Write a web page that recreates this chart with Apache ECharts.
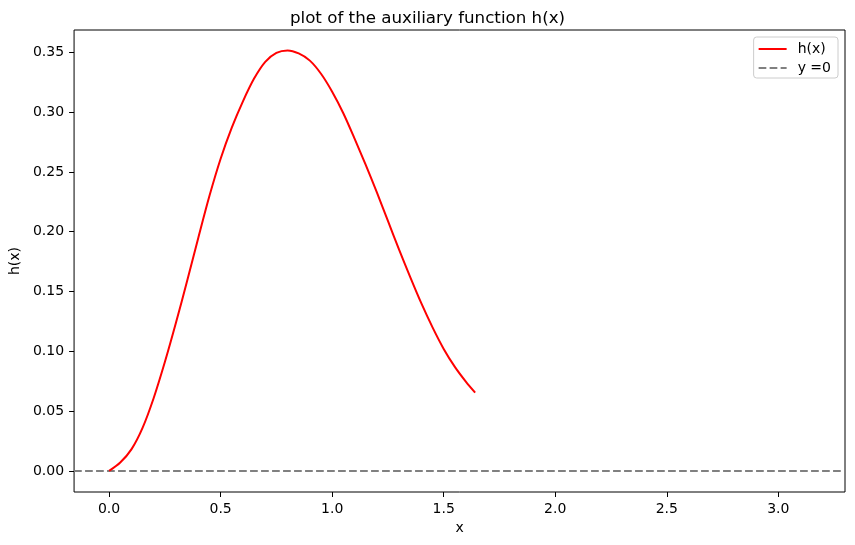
<!DOCTYPE html>
<html>
<head>
<meta charset="utf-8">
<script src="https://cdn.jsdelivr.net/npm/echarts@6/dist/echarts.min.js"></script>
<style>
html,body{margin:0;padding:0;background:#fff;}
#chart{width:855px;height:545px;}
</style>
</head>
<body>
<div id="chart"></div>
<script>
// Data
var xValues = [0.00, 0.05, 0.10, 0.15, 0.20, 0.25, 0.30, 0.35, 0.40, 0.45,
               0.50, 0.55, 0.60, 0.65, 0.70, 0.75, 0.80, 0.85, 0.90, 0.95,
               1.00, 1.05, 1.10, 1.15, 1.20, 1.25, 1.30, 1.35, 1.40, 1.45,
               1.50, 1.55, 1.60, 1.641];
var hValues = [0.000, 0.007, 0.018, 0.036, 0.061, 0.091, 0.124, 0.159, 0.195, 0.230,
               0.261, 0.287, 0.309, 0.328, 0.342, 0.3495, 0.3515, 0.349, 0.343, 0.332,
               0.317, 0.299, 0.278, 0.256, 0.233, 0.209, 0.185, 0.162, 0.140, 0.120,
               0.102, 0.087, 0.0745, 0.0655];
var xTicks = [0.0, 0.5, 1.0, 1.5, 2.0, 2.5, 3.0];
var yTicks = [0.00, 0.05, 0.10, 0.15, 0.20, 0.25, 0.30, 0.35];
var X_MIN = -0.157, X_MAX = 3.299;
var Y_MIN = -0.0176, Y_MAX = 0.3686;

var hData = xValues.map(function (x, i) { return [x, hValues[i]]; });
var zeroData = [[X_MIN, 0], [X_MAX, 0]];

var FONT = 'DejaVu Sans';
var chart = echarts.init(document.getElementById('chart'), null, {renderer: 'canvas'});
chart.setOption({
  animation: false,
  backgroundColor: '#ffffff',
  title: {
    text: 'plot of the auxiliary function h(x)',
    left: 'center',
    top: 10,
    padding: 0,
    textStyle: {fontFamily: FONT, fontSize: 16.7, fontWeight: 'normal', color: '#000'}
  },
  legend: {
    orient: 'vertical',
    right: 17,
    top: 37,
    padding: [5, 7, 3, 4],
    itemWidth: 28,
    itemHeight: 14,
    itemGap: 5,
    borderColor: '#cccccc',
    borderWidth: 1,
    borderRadius: 3,
    backgroundColor: 'rgba(255,255,255,0.8)',
    itemStyle: {opacity: 0},
    textStyle: {fontFamily: FONT, fontSize: 14, color: '#000', padding: [0, 0, 0, 6]},
    data: ['h(x)', 'y =0']
  },
  grid: {
    left: 70, right: 10, top: 30, bottom: 53,
    show: true, borderColor: '#000', borderWidth: 1, backgroundColor: 'transparent'
  },
  xAxis: {
    type: 'value',
    min: X_MIN, max: X_MAX,
    name: 'x',
    nameLocation: 'middle',
    nameGap: 29,
    nameTextStyle: {fontFamily: FONT, fontSize: 14, color: '#000'},
    axisLine: {show: false, onZero: false},
    axisTick: {show: true, inside: false, length: 5, lineStyle: {color: '#000', width: 1}, customValues: xTicks},
    axisLabel: {margin: 10, fontFamily: FONT, fontSize: 14, color: '#000', customValues: xTicks,
      formatter: function (v) { return v.toFixed(1); }},
    splitLine: {show: false}
  },
  yAxis: {
    type: 'value',
    min: Y_MIN, max: Y_MAX,
    name: 'h(x)',
    nameLocation: 'middle',
    nameGap: 38,
    nameTextStyle: {fontFamily: FONT, fontSize: 14, color: '#000'},
    axisLine: {show: false, onZero: false},
    axisTick: {show: true, inside: false, length: 5, lineStyle: {color: '#000', width: 1}, customValues: yTicks},
    axisLabel: {margin: 10, fontFamily: FONT, fontSize: 14, color: '#000', customValues: yTicks,
      formatter: function (v) { return v.toFixed(2); }},
    splitLine: {show: false}
  },
  series: [
    {
      name: 'h(x)',
      type: 'line',
      data: hData,
      showSymbol: false,
      symbol: 'none',
      smooth: 0.3,
      lineStyle: {color: '#ff0000', width: 2},
      itemStyle: {color: '#ff0000'},
      z: 3
    },
    {
      name: 'y =0',
      type: 'line',
      data: zeroData,
      showSymbol: false,
      symbol: 'none',
      lineStyle: {color: '#808080', width: 2, type: [7.7, 3.3]},
      itemStyle: {color: '#808080'},
      z: 2
    }
  ]
});
</script>
</body>
</html>
